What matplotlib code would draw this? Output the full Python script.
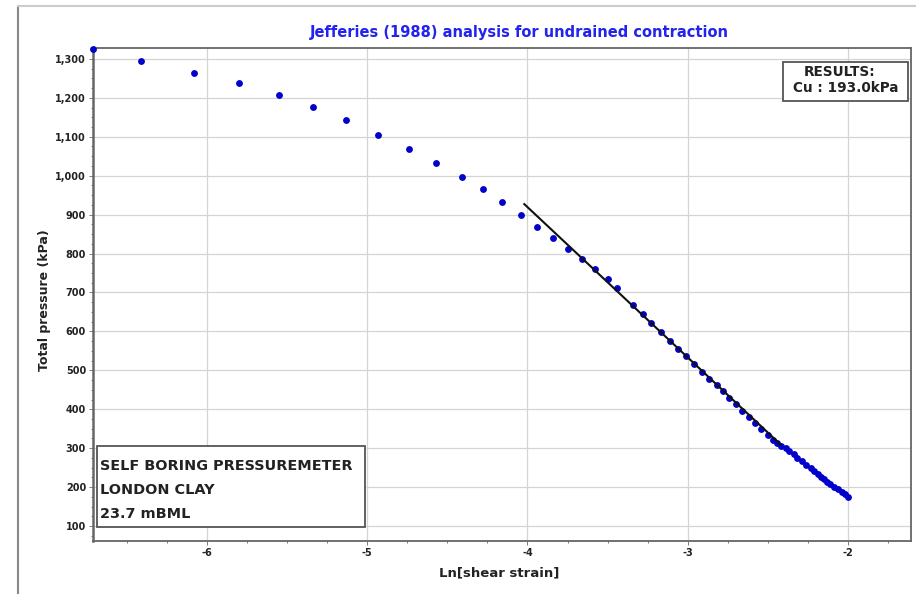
import matplotlib
matplotlib.use("Agg")
import matplotlib.pyplot as plt
from matplotlib.lines import Line2D
from matplotlib.patches import Rectangle
from matplotlib.ticker import FuncFormatter, MultipleLocator

plt.rcParams['font.family'] = ['DejaVu Sans']
plt.rcParams['axes.unicode_minus'] = False

# measured points (ln shear strain, total pressure kPa)
ln_strain = [-6.71, -6.41, -6.08, -5.80, -5.55, -5.34, -5.13, -4.93, -4.74, -4.57,
             -4.41, -4.28, -4.16, -4.04, -3.94, -3.84, -3.75, -3.66, -3.58, -3.50,
             -3.44, -3.34, -3.28, -3.23, -3.17, -3.11, -3.06, -3.01, -2.96, -2.91,
             -2.87, -2.82, -2.78, -2.74, -2.70, -2.66, -2.62, -2.58, -2.54, -2.50,
             -2.47, -2.44, -2.42, -2.39, -2.37, -2.34, -2.32, -2.29, -2.26, -2.23,
             -2.21, -2.19, -2.17, -2.15, -2.13, -2.11, -2.09, -2.06, -2.04, -2.02,
             -2.00]
pressure = [1326, 1295, 1265, 1238, 1207, 1176, 1142, 1105, 1068, 1032,
            997, 965, 933, 900, 869, 840, 812, 785, 759, 734,
            711, 667, 644, 622, 598, 576, 555, 537, 516, 496,
            478, 462, 446, 429, 413, 396, 380, 365, 349, 334,
            321, 313, 306, 300, 293, 284, 276, 267, 258, 250,
            242, 234, 226, 220, 214, 207, 201, 194, 188, 181,
            175]

# fitted line (slope = -2 Cu)
fit_x = [-4.02, -2.42]
fit_y = [927, 309]

title = 'Jefferies (1988) analysis for undrained contraction'
results = ['RESULTS:', 'Cu : 193.0kPa']
info = ['SELF BORING PRESSUREMETER', 'LONDON CLAY', '23.7 mBML']

fig = plt.figure(figsize=(9.16, 5.94), dpi=100)
ax = fig.add_axes([93/916, 1-541/594, (911-93)/916, (541-48)/594])

ax.plot(ln_strain, pressure, 'o', color='#0000cc', ms=3.9, mec='#0000cc',
        zorder=3, clip_on=False)
ax.plot(fit_x, fit_y, color='#111111', lw=1.5, zorder=4)

ax.set_xlim(-6.711, -1.607)
ax.set_ylim(61.5, 1328)
ax.xaxis.set_major_locator(MultipleLocator(1))
ax.xaxis.set_minor_locator(MultipleLocator(0.25))
ax.yaxis.set_major_locator(MultipleLocator(100))
ax.yaxis.set_minor_locator(MultipleLocator(25))
ax.yaxis.set_major_formatter(FuncFormatter(lambda v, p: f'{int(v):,}'))
ax.xaxis.set_major_formatter(FuncFormatter(lambda v, p: f'{int(round(v))}'))
ax.grid(True, which='major', color='#d4d4d4', lw=0.9)
ax.set_axisbelow(True)
ax.tick_params(which='both', labelsize=7, colors='#666666', labelcolor='#222222',
               direction='out', length=3, width=0.6)
ax.tick_params(axis='y', pad=2)
ax.tick_params(axis='x', pad=2)
ax.tick_params(which='minor', length=1.5)
for lbl in ax.get_xticklabels() + ax.get_yticklabels():
    lbl.set_fontweight('bold')
for s in ax.spines.values():
    s.set_color('#666666')
    s.set_linewidth(1.3)
ax.spines['left'].set_linewidth(1.8)

ax.set_xlabel('Ln[shear strain]', fontsize=9.5, fontweight='bold', color='#222222')
ax.xaxis.set_label_coords(0.497, -0.052)
ax.set_ylabel('Total pressure (kPa)', fontsize=9, fontweight='bold', color='#222222')
ax.yaxis.set_label_coords(-0.051, 0.489)
fig.text(519/916, 1-33/594, title, ha='center', va='center', fontsize=10.5,
         fontweight='bold', color='#2323ee')

# results box (top right)
ax.add_patch(Rectangle((0.8435, 0.8925), 0.1528, 0.0791, transform=ax.transAxes,
                       fc='white', ec='#555555', lw=1.3, zorder=5))
ax.text(0.913, 0.9513, results[0], transform=ax.transAxes, ha='center', va='center',
        fontsize=9.8, fontweight='bold', color='#222222', zorder=6)
ax.text(0.92, 0.9189, results[1], transform=ax.transAxes, ha='center', va='center',
        fontsize=9.8, fontweight='bold', color='#222222', zorder=6)

# site info box (bottom left)
ax.add_patch(Rectangle((0.0049, 0.0284), 0.3276, 0.1643, transform=ax.transAxes,
                       fc='white', ec='#555555', lw=1.3, zorder=5))
for line, yy in zip(info, [0.1521, 0.1034, 0.0548]):
    ax.text(0.0086, yy, line, transform=ax.transAxes, ha='left', va='center',
            fontsize=10.4, fontweight='bold', color='#222222', zorder=6)

# window frame around the chart
fig.add_artist(Line2D([18/916, 18/916], [0, 1-6/594], color='#888888', lw=1.5))
fig.add_artist(Line2D([18/916, 1], [1-6/594, 1-6/594], color='#cccccc', lw=1.5))

fig.savefig('out.png', dpi=100)
